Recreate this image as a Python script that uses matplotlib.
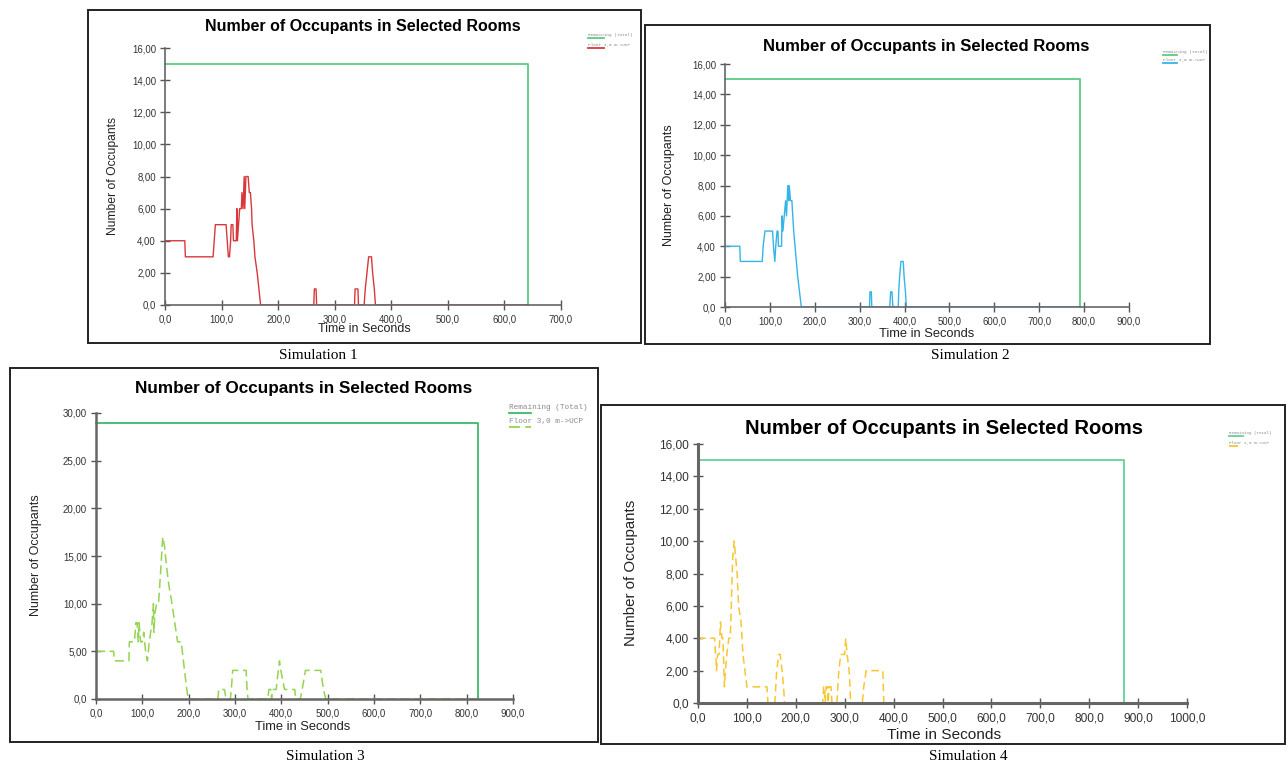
import matplotlib
matplotlib.use('Agg')
import matplotlib.pyplot as plt
from matplotlib.patches import Rectangle
from matplotlib.lines import Line2D
from matplotlib.ticker import FuncFormatter, MultipleLocator

# data (time in s, occupants)
sim1_t = [0, 35, 36, 85, 87, 89, 108, 110, 112, 114, 116, 117, 120, 121, 126, 127, 128, 130, 132, 135,
          136, 138, 140, 141, 143, 147, 149, 151, 153, 154, 157, 159, 163, 166, 169, 263, 264, 267, 268,
          335, 336, 341, 342, 352, 354, 357, 360, 365, 367, 370, 372, 642]
sim1_n = [4, 4, 3, 3, 4, 5, 5, 4, 3, 3, 4, 5, 5, 4, 4, 6, 4, 5, 6, 6,
          7, 6, 8, 6, 8, 8, 7, 7, 6, 5, 4, 3, 2, 1, 0, 0, 1, 1, 0,
          0, 1, 1, 0, 0, 1, 2, 3, 3, 2, 1, 0, 0]

sim2_t = [0, 33, 34, 83, 85, 89, 106, 108, 111, 113, 116, 118, 119, 126, 127, 129, 132, 135, 137, 140,
          142, 143, 146, 149, 151, 153, 156, 159, 162, 166, 170, 322, 323, 326, 327, 367, 369, 372, 374,
          386, 387, 389, 392, 397, 399, 402, 404, 791]
sim2_n = [4, 4, 3, 3, 4, 5, 5, 4, 3, 4, 5, 5, 4, 4, 6, 5, 6, 7, 6, 8,
          7, 8, 7, 7, 6, 5, 4, 3, 2, 1, 0, 0, 1, 1, 0, 0, 1, 1, 0,
          0, 1, 2, 3, 3, 2, 1, 0, 0]

sim3_t = [0, 38, 40, 71, 72, 83, 86, 89, 91, 93, 96, 100, 103, 107, 111, 115, 118, 121, 124, 125,
          127, 131, 135, 139, 144, 148, 152, 157, 164, 170, 176, 184, 191, 196, 199, 263, 265, 277, 281,
          290, 292, 295, 324, 326, 328, 371, 373, 377, 379, 381, 389, 391, 396, 399, 403, 407, 429, 431,
          441, 445, 452, 485, 491, 496, 824]
sim3_n = [5, 5, 4, 4, 6, 6, 8, 8, 6, 8, 6, 6, 7, 5, 4, 6, 7, 8, 10, 7,
          9, 10, 10, 13, 17, 16, 14, 12, 10, 8, 6, 6, 3, 1, 0, 0, 1, 1, 0,
          0, 1, 3, 3, 1, 0, 0, 1, 1, 0, 1, 1, 2, 4, 3, 2, 1, 1, 0,
          0, 1, 3, 3, 1, 0, 0]

sim4_t = [0, 34, 36, 38, 40, 43, 46, 49, 51, 54, 56, 59, 63, 66, 68, 71, 74, 77, 80, 83,
          88, 92, 96, 100, 141, 143, 157, 159, 161, 165, 168, 172, 175, 177, 255, 257, 259, 260, 262,
          265, 266, 268, 272, 274, 284, 286, 288, 292, 300, 302, 305, 309, 311, 312, 336, 339, 344, 378,
          380, 872]
sim4_n = [4, 4, 3, 2, 3, 3, 5, 4, 4, 1, 2, 3, 4, 4, 6, 9, 10, 9, 8, 6,
          5, 3, 2, 1, 1, 0, 0, 1, 2, 3, 3, 2, 1, 0, 0, 1, 1, 0, 1,
          1, 0, 1, 1, 0, 0, 1, 2, 3, 3, 4, 3, 2, 1, 0, 0, 1, 2, 2,
          0, 0]

remaining_total = [15, 15, 29, 15]
end_time = [642, 791, 824, 872]
x_max = [700, 900, 900, 1000]
y_max = [16, 16, 30, 16]
y_step = [2, 2, 5, 2]
captions = ['Simulation 1', 'Simulation 2', 'Simulation 3', 'Simulation 4']

W, H = 1288, 770


def fx(x):
    return x / W


def fy(y):
    return 1 - y / H


def yfmt(v, pos):
    if abs(v) < 1e-9:
        return '0,0'
    return ('%.2f' % v).replace('.', ',')


def xfmt(v, pos):
    return ('%.1f' % v).replace('.', ',')


# layout of each panel in pixels
panels = [
    dict(box=(88, 10, 641, 343), ax=(165, 561, 48, 305), title=(363, 27, 11.5), tick=6.9, lab=8.7,
         ylab=(113, 176), xlab=(364, 329), leg=(588, 35, 45, 3.2, 16), cap=(318, 356),
         color='#d9383a', ls='-', lw=1.0, spine=1.2, total_color='#5acb86'),
    dict(box=(645, 25, 1210, 344), ax=(725, 1129, 64, 307), title=(926, 47, 12), tick=6.9, lab=9.0,
         ylab=(669, 185), xlab=(927, 334), leg=(1163, 52, 60, 3.2, 14), cap=(970, 356),
         color='#35b4ea', ls='-', lw=1.0, spine=1.2, total_color='#5acb86'),
    dict(box=(10, 368, 598, 742), ax=(96, 513, 413, 699), title=(304, 389, 12.3), tick=7.0, lab=9.0,
         ylab=(36, 555), xlab=(303, 727), leg=(509, 408, 422, 5.6, 22), cap=(325, 757),
         color='#94d44e', ls=(0, (6, 3)), lw=1.1, spine=1.8, total_color='#3cba6c'),
    dict(box=(601, 405, 1285, 744), ax=(698, 1187, 444, 703), title=(944, 428, 14.6), tick=8.6, lab=10.8,
         ylab=(631, 573), xlab=(944, 735), leg=(1229, 433, 443, 3.0, 14), cap=(968, 757),
         color='#f9c631', ls=(0, (5, 3)), lw=1.1, spine=2.2, total_color='#62d394'),
]

series_t = [sim1_t, sim2_t, sim3_t, sim4_t]
series_n = [sim1_n, sim2_n, sim3_n, sim4_n]

plt.rcParams['font.family'] = ['Liberation Sans', 'DejaVu Sans']
fig = plt.figure(figsize=(W / 100, H / 100), dpi=100)

for i, p in enumerate(panels):
    bx0, by0, bx1, by1 = p['box']
    fig.add_artist(Rectangle((fx(bx0), fy(by1)), fx(bx1) - fx(bx0), fy(by0) - fy(by1),
                             transform=fig.transFigure, fill=False, ec='#222222', lw=1.4))

    ax0, ax1, aytop, ay0 = p['ax']
    ax = fig.add_axes([fx(ax0), fy(ay0), fx(ax1) - fx(ax0), fy(aytop) - fy(ay0)])
    ax.set_xlim(0, x_max[i])
    ax.set_ylim(0, y_max[i])
    ax.patch.set_alpha(0)

    tot = remaining_total[i]
    end = end_time[i]
    ax.plot([0, end, end], [tot, tot, 0], color=p['total_color'], lw=1.3, clip_on=False)
    ax.plot(series_t[i], series_n[i], color=p['color'], ls=p['ls'], lw=p['lw'])

    for s in ['top', 'right']:
        ax.spines[s].set_visible(False)
    for s in ['left', 'bottom']:
        ax.spines[s].set_color('#666666')
        ax.spines[s].set_linewidth(p['spine'])
    ax.xaxis.set_major_locator(MultipleLocator(100))
    ax.yaxis.set_major_locator(MultipleLocator(y_step[i]))
    ax.xaxis.set_major_formatter(FuncFormatter(xfmt))
    ax.yaxis.set_major_formatter(FuncFormatter(yfmt))
    ax.tick_params(direction='inout', length=7, width=1.0, color='#555555',
                   labelsize=p['tick'], labelcolor='#333333', pad=3)

    tx, ty, ts = p['title']
    fig.text(fx(tx), fy(ty), 'Number of Occupants in Selected Rooms', ha='center', va='center',
             fontsize=ts, fontweight='bold', color='black')
    yx, yy = p['ylab']
    fig.text(fx(yx), fy(yy), 'Number of Occupants', rotation=90, ha='center', va='center',
             fontsize=p['lab'], color='#222222')
    xx, xy = p['xlab']
    fig.text(fx(xx), fy(xy), 'Time in Seconds', ha='center', va='center',
             fontsize=p['lab'] + 0.3, color='#222222')

    lx, ly1, ly2, lsz, llen = p['leg']
    fig.text(fx(lx), fy(ly1), 'Remaining (Total)', ha='left', va='center', fontsize=lsz,
             family='Liberation Mono', color='#8a8a8a')
    fig.text(fx(lx), fy(ly2), 'Floor 3,0 m->UCP', ha='left', va='center', fontsize=lsz,
             family='Liberation Mono', color='#8a8a8a')
    off = lsz * 0.9
    fig.add_artist(Line2D([fx(lx), fx(lx + llen)], [fy(ly1 + off), fy(ly1 + off)],
                          color=p['total_color'], lw=1.3, transform=fig.transFigure))
    fig.add_artist(Line2D([fx(lx), fx(lx + llen)], [fy(ly2 + off), fy(ly2 + off)],
                          color=p['color'], lw=1.3, ls=p['ls'], transform=fig.transFigure))

    cx, cy = p['cap']
    fig.text(fx(cx), fy(cy), captions[i], ha='center', va='center', fontsize=11,
             family='Liberation Serif', color='black')

fig.savefig('out.png', dpi=100)
